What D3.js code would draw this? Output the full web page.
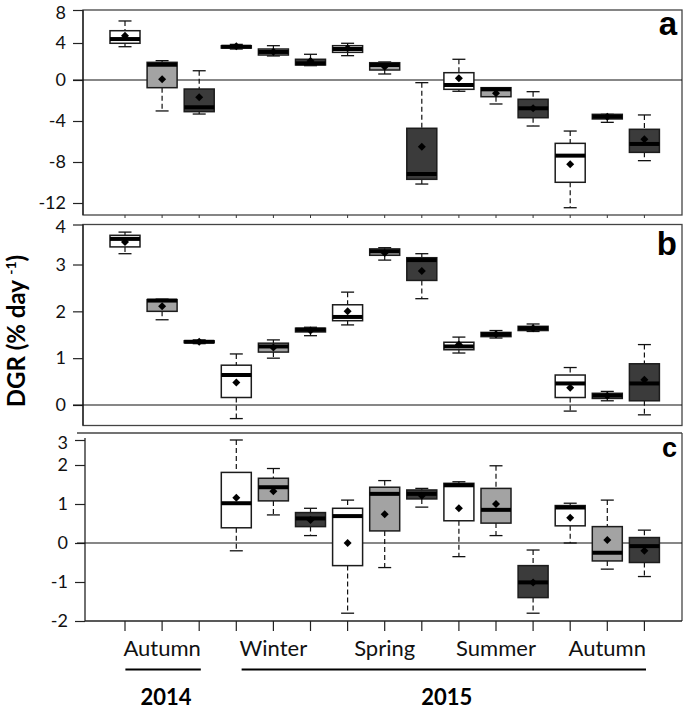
<!DOCTYPE html>
<html><head><meta charset="utf-8">
<script src="https://cdn.jsdelivr.net/npm/d3@7"></script>
<style>body{margin:0;background:#fff} svg{display:block}</style>
</head><body><svg id="chart" width="685" height="709"></svg>
<script>
// ---------- data ----------
const seasons = ["Autumn", "Winter", "Spring", "Summer", "Autumn"];
const seasonYear = ["2014", "2015", "2015", "2015", "2015"];
const years = ["2014", "2015"];
const treatments = ["white", "light", "dark"];
const panelLetters = ["a", "b", "c"];
const ticksA = [8, 4, 0, -4, -8, -12];
const ticksB = [4, 3, 2, 1, 0];
const ticksC = [3, 2, 1, 0, -1, -2];
// each row: [lower whisker, q1, median, q3, upper whisker, mean]
const dgrA = [
  [3.6, 3.97, 4.48, 5.49, 6.67, 4.88],
  [-3.02, -0.75, 1.65, 1.91, 2.09, 0.08],
  [-3.32, -3.09, -2.66, -0.88, 1.0, -1.69],
  [3.35, 3.45, 3.6, 3.7, 3.85, 3.65],
  [2.6, 2.7, 3.03, 3.35, 3.71, 3.06],
  [1.55, 1.62, 1.8, 2.24, 2.78, 2.05],
  [2.63, 2.99, 3.35, 3.71, 3.97, 3.42],
  [0.65, 1.08, 1.62, 1.87, 1.95, 1.44],
  [-10.15, -9.69, -9.17, -4.71, -0.26, -6.5],
  [-1.1, -0.91, -0.49, 0.79, 2.24, 0.18],
  [-2.34, -1.63, -0.91, -0.75, -0.75, -1.3],
  [-4.49, -3.68, -2.76, -1.88, -1.14, -2.76],
  [-12.46, -9.98, -7.38, -6.18, -4.98, -8.23],
  [-4.13, -3.8, -3.58, -3.35, -3.35, -3.58],
  [-7.87, -7.06, -6.24, -4.81, -3.41, -5.79]
];
const dgrB = [
  [3.27, 3.44, 3.64, 3.73, 3.81, 3.56],
  [1.82, 2.0, 2.23, 2.25, 2.26, 2.11],
  [1.31, 1.33, 1.35, 1.37, 1.39, 1.35],
  [-0.29, 0.16, 0.64, 0.85, 1.09, 0.48],
  [1.0, 1.13, 1.25, 1.32, 1.39, 1.23],
  [1.48, 1.56, 1.61, 1.64, 1.66, 1.59],
  [1.71, 1.8, 1.88, 2.14, 2.41, 2.0],
  [3.11, 3.23, 3.33, 3.39, 3.42, 3.29],
  [2.27, 2.66, 3.11, 3.17, 3.27, 2.86],
  [1.11, 1.18, 1.25, 1.34, 1.45, 1.29],
  [1.43, 1.46, 1.51, 1.55, 1.59, 1.51],
  [1.57, 1.59, 1.64, 1.68, 1.73, 1.64],
  [-0.13, 0.16, 0.46, 0.64, 0.8, 0.37],
  [0.09, 0.14, 0.2, 0.25, 0.29, 0.2],
  [-0.21, 0.09, 0.46, 0.88, 1.29, 0.54]
];
const dgrC = [
  null, null, null,
  [-0.2, 0.39, 1.02, 1.81, 3.0, 1.16],
  [0.72, 1.08, 1.43, 1.66, 1.91, 1.33],
  [0.19, 0.42, 0.63, 0.78, 0.89, 0.59],
  [-1.8, -0.58, 0.69, 0.89, 1.1, 0.0],
  [-0.63, 0.31, 1.26, 1.43, 1.6, 0.74],
  [0.92, 1.13, 1.26, 1.36, 1.4, 1.21],
  [-0.35, 0.57, 1.48, 1.53, 1.57, 0.89],
  [0.19, 0.51, 0.85, 1.4, 1.98, 1.0],
  [-1.8, -1.4, -1.01, -0.58, -0.18, -1.01],
  [0.0, 0.44, 0.91, 0.96, 1.02, 0.65],
  [-0.67, -0.46, -0.25, 0.42, 1.1, 0.08],
  [-0.86, -0.5, -0.08, 0.14, 0.33, -0.2]
];

// ---------- layout / style ----------
const FONT = "Lato, 'Liberation Sans', Arial, sans-serif";
const fills = { white: "#ffffff", light: "#a3a3a3", dark: "#3b3b3b" };
const RIGHT = 682;
const boxW = 30, capW = 13;

const svg = d3.select("#chart");
const boxIds = d3.range(seasons.length * treatments.length);
const x = d3.scaleBand().domain(boxIds).range([106.45, 662.95]).padding(0);
const cx = i => x(i) + x.bandwidth() / 2;

const panels = [
  { letter: panelLetters[0], data: dgrA, ticks: ticksA, top: 10, bottom: 215, left: 83,
    domain: [8, 4, 0, -12], range: [10, 43, 80, 203], lsize: 33, lbase: 35, zeroFrom: 73, closed: true },
  { letter: panelLetters[1], data: dgrB, ticks: ticksB, top: 224.5, bottom: 425.5, left: 83,
    domain: [4, 3, 0], range: [224.5, 264.5, 405], lsize: 33, lbase: 255, zeroFrom: 73, closed: true },
  { letter: panelLetters[2], data: dgrC, ticks: ticksC, top: 433, bottom: 621, left: 85,
    domain: [3, 2, -2], range: [440, 465, 621], lsize: 27, lbase: 457, zeroFrom: 77, closed: false }
];

panels.forEach((p, pi) => {
  const y = d3.scaleLinear().domain(p.domain).range(p.range);
  const g = svg.append("g");

  // frame
  if (p.closed) {
    g.append("rect").attr("x", p.left).attr("y", p.top)
      .attr("width", RIGHT - p.left).attr("height", p.bottom - p.top)
      .attr("fill", "none").attr("stroke", "#444").attr("stroke-width", 1.3);
  } else {
    g.append("line").attr("x1", 77).attr("x2", RIGHT).attr("y1", p.top).attr("y2", p.top)
      .attr("stroke", "#444").attr("stroke-width", 1.3);
    g.append("line").attr("x1", RIGHT).attr("x2", RIGHT).attr("y1", p.top).attr("y2", p.bottom)
      .attr("stroke", "#444").attr("stroke-width", 1.3);
  }
  // left axis line
  g.append("line").attr("x1", p.left).attr("x2", p.left)
    .attr("y1", p.closed ? p.top : p.top + 5).attr("y2", p.bottom)
    .attr("stroke", "#222").attr("stroke-width", 1.3);

  // y axis ticks & labels
  const ax = g.append("g").attr("transform", `translate(${p.left},0)`)
    .call(d3.axisLeft(y).tickValues(p.ticks).tickSize(10).tickSizeOuter(0).tickPadding(7)
      .tickFormat(d => String(d)));
  ax.select(".domain").remove();
  ax.selectAll(".tick line").attr("stroke", "#222").attr("stroke-width", 1.2);
  ax.selectAll(".tick text").attr("font-family", FONT).attr("font-size", 18).attr("fill", "#111")
    .attr("dy", (d, k) => k === 0 ? "0.45em" : "0.32em");

  // zero line
  g.append("line").attr("x1", p.zeroFrom).attr("x2", RIGHT).attr("y1", y(0)).attr("y2", y(0))
    .attr("stroke", "#111").attr("stroke-width", 1.2);

  // small ticks below panel a
  if (pi === 0) {
    g.selectAll(".mt").data(boxIds).enter().append("line")
      .attr("x1", cx).attr("x2", cx).attr("y1", p.bottom).attr("y2", p.bottom + 3)
      .attr("stroke", "#333").attr("stroke-width", 1);
  }

  // boxes
  const rows = p.data.map((d, i) => ({ d, i })).filter(r => r.d);
  const bx = g.selectAll(".box").data(rows).enter().append("g");
  // whiskers
  bx.append("line").attr("x1", r => cx(r.i)).attr("x2", r => cx(r.i))
    .attr("y1", r => y(r.d[4])).attr("y2", r => y(r.d[3]))
    .attr("stroke", "#111").attr("stroke-width", 1.2).attr("stroke-dasharray", "5,3");
  bx.append("line").attr("x1", r => cx(r.i)).attr("x2", r => cx(r.i))
    .attr("y1", r => y(r.d[1])).attr("y2", r => y(r.d[0]))
    .attr("stroke", "#111").attr("stroke-width", 1.2).attr("stroke-dasharray", "5,3");
  // caps
  [0, 4].forEach(k => {
    bx.append("line").attr("x1", r => cx(r.i) - capW / 2).attr("x2", r => cx(r.i) + capW / 2)
      .attr("y1", r => y(r.d[k])).attr("y2", r => y(r.d[k]))
      .attr("stroke", "#111").attr("stroke-width", 1.3);
  });
  // box
  bx.append("rect").attr("x", r => cx(r.i) - boxW / 2).attr("width", boxW)
    .attr("y", r => y(r.d[3])).attr("height", r => Math.max(0.5, y(r.d[1]) - y(r.d[3])))
    .attr("fill", r => fills[treatments[r.i % 3]])
    .attr("stroke", "#1c1c1c").attr("stroke-width", 1.5);
  // median
  bx.append("line").attr("x1", r => cx(r.i) - boxW / 2).attr("x2", r => cx(r.i) + boxW / 2)
    .attr("y1", r => y(r.d[2])).attr("y2", r => y(r.d[2]))
    .attr("stroke", "#000").attr("stroke-width", 4);
  // mean (square rotated into a diamond)
  bx.append("path").attr("d", d3.symbol(d3.symbolSquare, 32))
    .attr("transform", r => `translate(${cx(r.i)},${y(r.d[5])}) rotate(45)`)
    .attr("fill", "#000");

  // panel letter
  g.append("text").attr("x", 677).attr("y", p.lbase).attr("text-anchor", "end")
    .attr("font-family", "'Liberation Sans', Arial, sans-serif").attr("font-weight", "bold")
    .attr("font-size", p.lsize).attr("fill", "#000").text(p.letter);
});

// bottom axis
const pc = panels[2];
svg.append("line").attr("x1", pc.left).attr("x2", RIGHT).attr("y1", pc.bottom).attr("y2", pc.bottom)
  .attr("stroke", "#222").attr("stroke-width", 1.3);
const bax = svg.append("g").attr("transform", `translate(0,${pc.bottom})`)
  .call(d3.axisBottom(x).tickSize(10).tickSizeOuter(0).tickFormat(""));
bax.select(".domain").remove();
bax.selectAll(".tick line").attr("stroke", "#222").attr("stroke-width", 1.2);

// season labels
const seasonText = svg.selectAll(".season").data(seasons).enter().append("text")
  .attr("x", (s, k) => cx(k * 3 + 1)).attr("y", 656).attr("text-anchor", "middle")
  .attr("font-family", FONT).attr("font-size", 22).attr("fill", "#111").text(s => s);

// year underlines & labels
years.forEach(yr => {
  const nodes = seasonText.filter((s, k) => seasonYear[k] === yr).nodes();
  const b0 = nodes[0].getBBox(), b1 = nodes[nodes.length - 1].getBBox();
  const x0 = b0.x + 2, x1 = b1.x + b1.width;
  svg.append("line").attr("x1", x0).attr("x2", x1).attr("y1", 669.5).attr("y2", 669.5)
    .attr("stroke", "#000").attr("stroke-width", 2);
  svg.append("text").attr("x", (x0 + x1) / 2 + 3).attr("y", 705).attr("text-anchor", "middle")
    .attr("font-family", FONT).attr("font-weight", "bold").attr("font-size", 22)
    .attr("fill", "#000").text(yr);
});

// y-axis title
const title = svg.append("text").attr("transform", "translate(25,331) rotate(-90)")
  .attr("text-anchor", "middle").attr("font-family", FONT).attr("font-weight", "bold")
  .attr("font-size", 24).attr("fill", "#000");
title.append("tspan").text("DGR (% day ");
title.append("tspan").attr("font-size", 14).attr("dy", -9).text("-1");
title.append("tspan").attr("dy", 9).text(")");
</script></body></html>
